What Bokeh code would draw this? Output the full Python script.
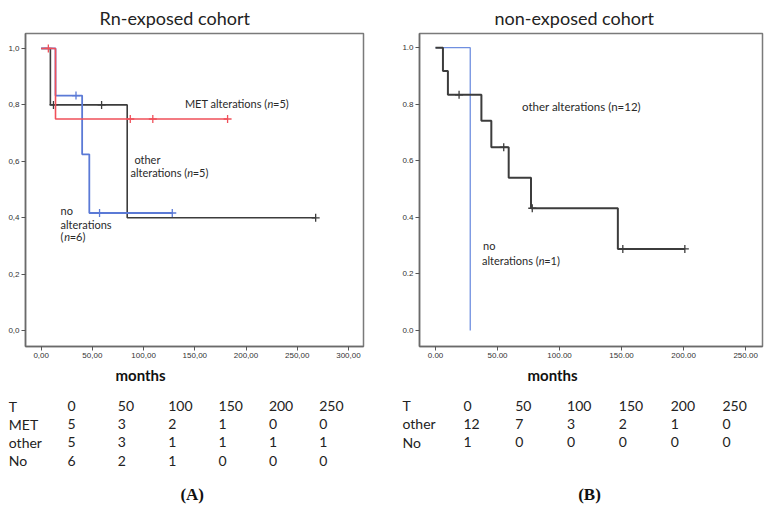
from bokeh.plotting import figure
from bokeh.layouts import column, row
from bokeh.models import Range1d, FixedTicker, CustomJSTickFormatter, PrintfTickFormatter, Title
from bokeh.core.properties import value
from bokeh.embed import file_html
from bokeh.resources import INLINE

# ---------------- data ----------------
# Panel A: Rn-exposed cohort
a_met_t = [0, 14, 182]
a_met_s = [1.0, 0.75, 0.75]
a_met_cens_t = [7, 87, 109, 182]
a_met_cens_s = [1.0, 0.75, 0.75, 0.75]

a_oth_t = [0, 9, 84, 268]
a_oth_s = [1.0, 0.8, 0.4, 0.4]
a_oth_cens_t = [12, 59, 268]
a_oth_cens_s = [0.8, 0.8, 0.4]

a_no_t = [0, 14, 40, 47, 128]
a_no_s = [1.0, 0.833, 0.625, 0.417, 0.417]
a_no_cens_t = [34, 57, 128]
a_no_cens_s = [0.833, 0.417, 0.417]

# Panel B: non-exposed cohort
b_no_t = [0, 28]
b_no_s = [1.0, 0.0]

b_oth_t = [0, 6, 10, 37, 45, 59, 77, 147, 201]
b_oth_s = [1.0, 0.917, 0.833, 0.741, 0.648, 0.540, 0.432, 0.288, 0.288]
b_oth_cens_t = [19, 55, 78, 151, 201]
b_oth_cens_s = [0.833, 0.648, 0.432, 0.288, 0.288]

a_xticks = [0, 50, 100, 150, 200, 250, 300]
b_xticks = [0, 50, 100, 150, 200, 250]
yticks = [0.0, 0.2, 0.4, 0.6, 0.8, 1.0]

# numbers at risk
tbl_times = [0, 50, 100, 150, 200, 250]
a_rows = ["MET", "other", "No"]
a_counts = [[5, 3, 2, 1, 0, 0],
            [5, 3, 1, 1, 1, 1],
            [6, 2, 1, 0, 0, 0]]
b_rows = ["other", "No"]
b_counts = [[12, 7, 3, 2, 1, 0],
            [1, 0, 0, 0, 0, 0]]

RED = "#f0505a"
BLUE = "#5b7ad6"
BLUE2 = "#6f8fe0"
BLACK = "#3c3c3c"
FONT = "Lato"
W = 386


def km_fig(xr, yr, borders, title, title_off, months_off, xticks, comma):
    l, r, t, b = borders
    p = figure(width=W, height=390, x_range=Range1d(*xr), y_range=Range1d(*yr),
               toolbar_location=None, output_backend="svg",
               min_border_left=l, min_border_right=r, min_border_top=t, min_border_bottom=b)
    p.title.text = title
    p.title.align = "left"
    p.title.offset = title_off
    p.title.text_font = FONT
    p.title.text_font_size = "18px"
    p.title.text_font_style = "normal"
    p.title.text_color = "#222222"
    p.title.standoff = 9
    p.grid.visible = False
    p.outline_line_color = "#7a7a7a"
    p.outline_line_width = 1.5
    p.outline_line_alpha = 1.0
    p.xaxis.ticker = FixedTicker(ticks=xticks)
    p.yaxis.ticker = FixedTicker(ticks=yticks)
    if comma:
        p.xaxis.formatter = CustomJSTickFormatter(code="return tick.toFixed(2).replace('.', ',');")
        p.yaxis.formatter = CustomJSTickFormatter(code="return tick.toFixed(1).replace('.', ',');")
    else:
        p.xaxis.formatter = PrintfTickFormatter(format="%.2f")
        p.yaxis.formatter = PrintfTickFormatter(format="%.1f")
    for ax in (p.xaxis, p.yaxis):
        ax.major_tick_in = 0
        ax.major_tick_out = 4
        ax.minor_tick_line_color = None
        ax.axis_line_color = "#6a6a6a"
        ax.axis_line_width = 1.5
        ax.major_tick_line_color = "#555555"
        ax.major_label_text_font = "Liberation Sans"
        ax.major_label_text_font_size = "8px"
        ax.major_label_text_color = "#333333"
        ax.major_label_standoff = 2
    p.add_layout(Title(text="months", align="left", offset=months_off, text_font=FONT,
                       text_font_size="15px", text_font_style="bold", text_color="#111111",
                       standoff=6), "below")
    return p


def note(p, x, y, parts, size="11px"):
    # parts: list of (text, italic, px_offset, align)
    for txt, ital, off, align in parts:
        p.text(x=[x], y=[y], text=[txt], x_offset=off, text_font=value(FONT),
               text_font_size=size, text_font_style="italic" if ital else "normal",
               text_color="#2a2a2a", text_align=align, text_baseline="middle")


# ---------------- Panel A ----------------
pa = km_fig((-15.3, 314.7), (-0.056, 1.053), (25, 23, 30, 44), "Rn-exposed cohort", 74, 90,
            a_xticks, True)
pa.step(a_oth_t, a_oth_s, mode="after", line_color=BLACK, line_width=1.6)
pa.scatter(a_oth_cens_t, a_oth_cens_s, marker="cross", size=8, line_color=BLACK, line_width=1.3)
pa.step(a_no_t, a_no_s, mode="after", line_color=BLUE, line_width=1.8)
pa.scatter(a_no_cens_t, a_no_cens_s, marker="cross", size=8, line_color=BLUE, line_width=1.3)
pa.step(a_met_t, a_met_s, mode="after", line_color=RED, line_width=1.6)
pa.scatter(a_met_cens_t, a_met_cens_s, marker="cross", size=8, line_color=RED, line_width=1.3)

note(pa, 221, 0.805, [("MET alterations (", False, 0, "right"), ("n", True, 0, "left"),
                      ("=5)", False, 5.5, "left")])
note(pa, 91, 0.608, [("other", False, 0, "left")])
note(pa, 142.6, 0.561, [("alterations (", False, 0, "right"), ("n", True, 0, "left"),
                        ("=5)", False, 5.5, "left")])
note(pa, 18.9, 0.425, [("no", False, 0, "left")])
note(pa, 18.9, 0.375, [("alterations", False, 0, "left")])
note(pa, 18.9, 0.333, [("(", False, 0, "left"), ("n", True, 3.6, "left"),
                       ("=6)", False, 9.1, "left")])

# ---------------- Panel B ----------------
pb = km_fig((-12.9, 263.6), (-0.057, 1.05), (33, 10, 32, 42), "non-exposed cohort", 75, 108,
            b_xticks, False)
pb.step(b_no_t, b_no_s, mode="after", line_color=BLUE2, line_width=1.3)
pb.step(b_oth_t, b_oth_s, mode="after", line_color=BLACK, line_width=2.0)
pb.scatter(b_oth_cens_t, b_oth_cens_s, marker="cross", size=8, line_color=BLACK, line_width=1.3)

note(pb, 69.7, 0.792, [("other alterations (n=12)", False, 0, "left")], size="11.5px")
note(pb, 38.3, 0.30, [("no", False, 0, "left")])
note(pb, 83.2, 0.2485, [("alterations (", False, 0, "right"), ("n", True, 0, "left"),
                        ("=1)", False, 5.5, "left")])


# ---------------- tables ----------------
def table_fig(x0_px, slope, row0, dy, header, rows, counts, label_px, panel, panel_x_px):
    w, h = W, 122
    xr = Range1d(-x0_px / slope, (w - x0_px) / slope)
    p = figure(width=w, height=h, x_range=xr, y_range=Range1d(h, 0),
               toolbar_location=None, output_backend="svg", min_border=0)
    p.axis.visible = False
    p.grid.visible = False
    p.outline_line_color = None
    names = [header] + rows
    for i, name in enumerate(names):
        y = row0 + dy * i
        vals = tbl_times if i == 0 else counts[i - 1]
        p.text(x=[xr.start], y=[y], text=[name], x_offset=label_px, text_font=value(FONT),
               text_font_size="14px", text_color="#222222", text_baseline="middle")
        p.text(x=tbl_times, y=[y] * len(vals), text=[str(v) for v in vals],
               text_font=value(FONT), text_font_size="14px", text_color="#222222",
               text_baseline="middle", text_align="left")
    p.text(x=[xr.start], y=[104], text=[panel], x_offset=panel_x_px,
           text_font=value("Liberation Serif"), text_font_size="17px", text_font_style="bold",
           text_color="#111111", text_baseline="middle", text_align="center")
    return p


ta = table_fig(66.9, 1.0074, 15.7, 18.1, "T", a_rows, a_counts, 8.3, "(A)", 191.7)
tb = table_fig(76.9, 1.0362, 15.0, 18.3, "T", b_rows, b_counts, 16.0, "(B)", 203.0)

layout = column(row(pa, pb), row(ta, tb))
open("out.html", "w").write(file_html(layout, INLINE))
